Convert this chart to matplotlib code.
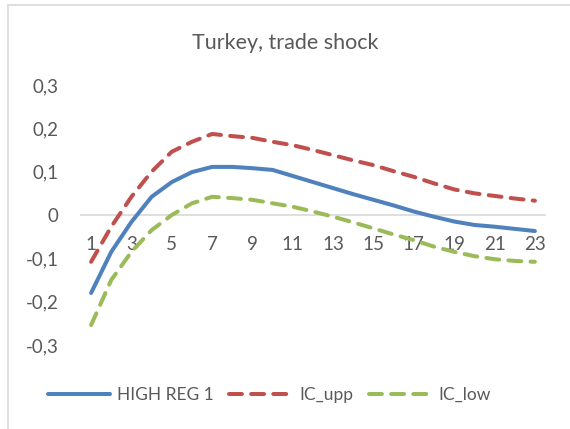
import numpy as np
import matplotlib.pyplot as plt
from matplotlib.lines import Line2D

# data
periods = list(range(1, 24))
high_reg = [-0.180, -0.085, -0.016, 0.042, 0.076, 0.099, 0.111, 0.111, 0.108, 0.104,
            0.090, 0.076, 0.062, 0.048, 0.035, 0.022, 0.008, -0.004, -0.015, -0.023,
            -0.027, -0.032, -0.037]
ic_upp = [-0.108, -0.027, 0.042, 0.100, 0.146, 0.169, 0.187, 0.182, 0.178, 0.169,
          0.161, 0.150, 0.138, 0.126, 0.115, 0.101, 0.088, 0.073, 0.059, 0.050,
          0.044, 0.038, 0.033]
ic_low = [-0.254, -0.150, -0.085, -0.035, 0.000, 0.027, 0.042, 0.039, 0.035, 0.027,
          0.019, 0.008, -0.004, -0.017, -0.031, -0.045, -0.058, -0.073, -0.085, -0.095,
          -0.102, -0.106, -0.108]
series_names = ["HIGH REG 1", "IC_upp", "IC_low"]
yticks = [-0.3, -0.2, -0.1, 0, 0.1, 0.2, 0.3]

blue = "#4F81BD"
red = "#C0504D"
green = "#9BBB59"
txt = "#595959"

plt.rcParams["font.family"] = ["Lato", "DejaVu Sans"]

fig = plt.figure(figsize=(5.7, 4.29), dpi=100)
ax = fig.add_axes([81/570, (429-345)/429, (545-81)/570, 260/429])

lw = 2.9
ax.plot(periods, high_reg, color=blue, lw=lw, solid_capstyle="round", label=series_names[0])
ax.plot(periods, ic_upp, color=red, lw=lw, dashes=(3.2, 2.3), dash_capstyle="round", label=series_names[1])
ax.plot(periods, ic_low, color=green, lw=lw, dashes=(3.2, 2.3), dash_capstyle="round", label=series_names[2])

ax.set_xlim(0.5, 23.5)
ax.set_ylim(-0.3, 0.3)
ax.set_yticks(yticks)
ax.set_yticklabels(["0" if v == 0 else ("%.1f" % v).replace(".", ",") for v in yticks])
ax.set_xticks(periods[::2])
ax.set_xticklabels([str(p) for p in periods[::2]])

for s in ["top", "right", "left"]:
    ax.spines[s].set_visible(False)
ax.spines["bottom"].set_position(("data", 0))
ax.spines["bottom"].set_color("#D9D9D9")
ax.spines["bottom"].set_linewidth(1.2)
ax.spines["bottom"].set_zorder(0)
ax.tick_params(axis="x", length=0, pad=15, labelsize=13.5, labelcolor=txt)
ax.tick_params(axis="y", length=0, pad=16, labelsize=13.5, labelcolor=txt)

fig.text(0.5, 1 - 43/429, "Turkey, trade shock", ha="center", va="center",
         fontsize=15.5, color=txt)

handles = [Line2D([], [], color=blue, lw=lw, solid_capstyle="round"),
           Line2D([], [], color=red, lw=lw, dashes=(3.2, 2.3), dash_capstyle="round"),
           Line2D([], [], color=green, lw=lw, dashes=(3.2, 2.3), dash_capstyle="round")]
leg = fig.legend(handles, series_names, loc="center", bbox_to_anchor=(269/570, 1 - 395/429),
                 ncol=3, frameon=False, fontsize=12.5, handlelength=3.6,
                 handletextpad=0.4, columnspacing=0.9)
for t in leg.get_texts():
    t.set_color(txt)

# chart border (top and left visible)
fig.add_artist(Line2D([8/570, 1], [1 - 5/429, 1 - 5/429], color="#D9D9D9", lw=1.2))
fig.add_artist(Line2D([8/570, 8/570], [0, 1 - 5/429], color="#D9D9D9", lw=1.2))

fig.savefig("out.png", dpi=100)
